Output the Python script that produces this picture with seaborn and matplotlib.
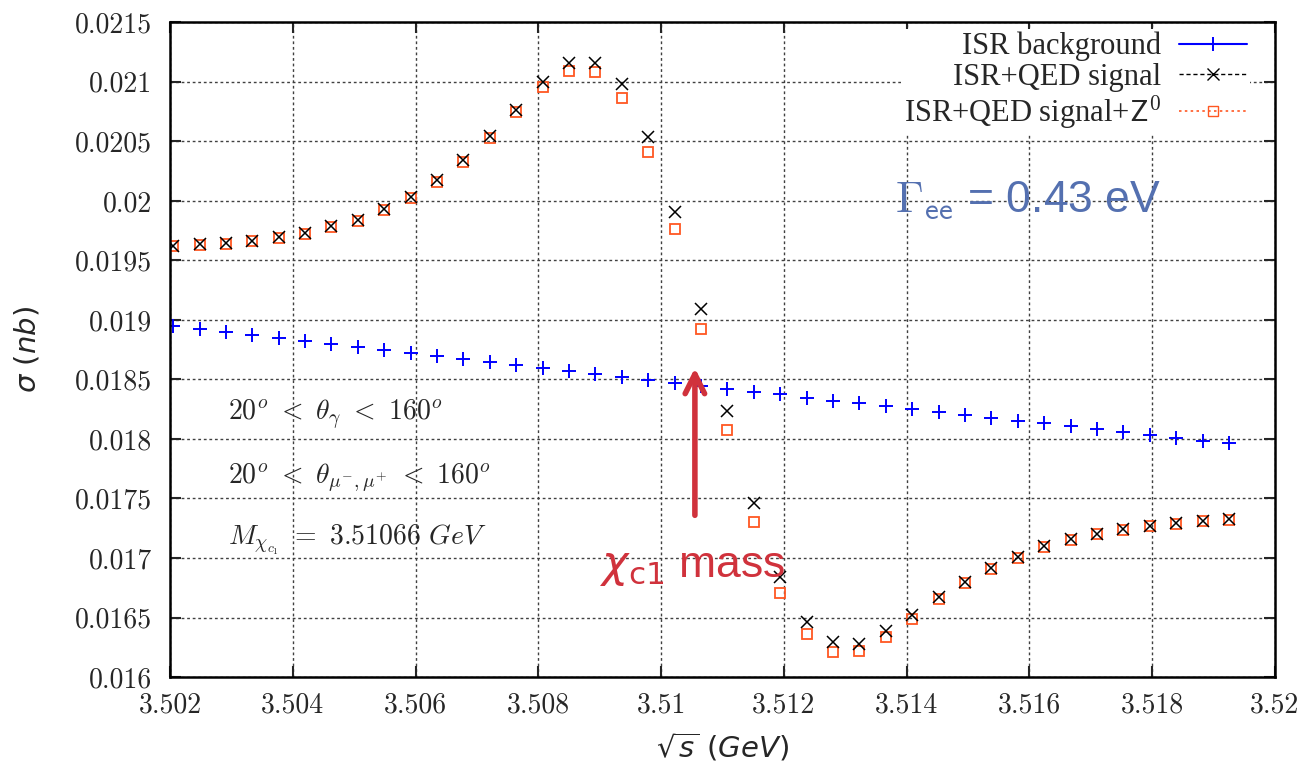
import pandas as pd
import seaborn as sns
import matplotlib
matplotlib.use('Agg')
import matplotlib.pyplot as plt
from matplotlib.lines import Line2D
from matplotlib.ticker import MultipleLocator, FuncFormatter

# centre-of-mass energy (GeV)
sqrt_s = [3.50205, 3.50248, 3.50291, 3.50334, 3.50377, 3.50420, 3.50463, 3.50506,
          3.50549, 3.50592, 3.50635, 3.50678, 3.50721, 3.50764, 3.50807, 3.50850,
          3.50893, 3.50936, 3.50979, 3.51022, 3.51065, 3.51108, 3.51151, 3.51194,
          3.51237, 3.51280, 3.51323, 3.51366, 3.51409, 3.51452, 3.51495, 3.51538,
          3.51581, 3.51624, 3.51667, 3.51710, 3.51753, 3.51796, 3.51839, 3.51882,
          3.51925]

# cross sections (nb)
isr_background = [0.018950, 0.018924, 0.018896, 0.018871, 0.018846, 0.018820, 0.018798,
                  0.018772, 0.018747, 0.018722, 0.018694, 0.018671, 0.018643, 0.018621,
                  0.018598, 0.018570, 0.018545, 0.018520, 0.018494, 0.018469, 0.018444,
                  0.018418, 0.018393, 0.018374, 0.018348, 0.018320, 0.018299, 0.018276,
                  0.018251, 0.018226, 0.018204, 0.018178, 0.018153, 0.018131, 0.018106,
                  0.018081, 0.018059, 0.018036, 0.018011, 0.017986, 0.017964]
qed_signal = [0.019623, 0.019637, 0.019646, 0.019667, 0.019696, 0.019732, 0.019785,
              0.019841, 0.019930, 0.020036, 0.020173, 0.020343, 0.020547, 0.020765,
              0.020995, 0.021154, 0.021159, 0.020978, 0.020534, 0.019908, 0.019093,
              0.018233, 0.017458, 0.016840, 0.016459, 0.016296, 0.016279, 0.016385,
              0.016520, 0.016670, 0.016795, 0.016912, 0.017008, 0.017098, 0.017157,
              0.017205, 0.017242, 0.017269, 0.017292, 0.017311, 0.017326]
qed_signal_z0 = [0.019618, 0.019632, 0.019641, 0.019661, 0.019690, 0.019725, 0.019777,
                 0.019832, 0.019920, 0.020025, 0.020160, 0.020328, 0.020530, 0.020746,
                 0.020953, 0.021087, 0.021081, 0.020863, 0.020409, 0.019760, 0.018927,
                 0.018075, 0.017300, 0.016709, 0.016360, 0.016212, 0.016222, 0.016334,
                 0.016490, 0.016652, 0.016786, 0.016906, 0.017003, 0.017095, 0.017155,
                 0.017202, 0.017239, 0.017266, 0.017289, 0.017308, 0.017323]

legend_labels = ['ISR background', 'ISR+QED signal', r'ISR+QED signal+$\mathsf{Z}^{0}$']

BLUE = '#0000FF'
ORANGE = '#FF5722'
RED = '#D0323C'
SLATE = '#5470B0'

sns.set_style('ticks')
plt.rcParams['mathtext.fontset'] = 'cm'
plt.rcParams['axes.unicode_minus'] = False
plt.rcParams['font.family'] = ['DejaVu Sans']

df = pd.DataFrame({
    'sqrt_s': sqrt_s,
    'bkg': isr_background,
    'sig': qed_signal,
    'sigz': qed_signal_z0,
})

fig = plt.figure(figsize=(13.03, 7.69), dpi=100)
ax = fig.add_axes([0.1305, 0.1196, 0.848, 0.8514])

sns.lineplot(data=df, x='sqrt_s', y='sigz', ax=ax, linestyle='none', marker='s',
             markersize=7, markerfacecolor='none', markeredgecolor=ORANGE,
             markeredgewidth=1.3, color=ORANGE)
sns.lineplot(data=df, x='sqrt_s', y='sig', ax=ax, linestyle='none', marker='x',
             markersize=8, markeredgewidth=1.1, markeredgecolor='black', color='black')
sns.lineplot(data=df, x='sqrt_s', y='bkg', ax=ax, linestyle='none', marker='+',
             markersize=10, markeredgewidth=1.4, markeredgecolor=BLUE, color=BLUE)

ax.set_xlim(3.502, 3.52)
ax.set_ylim(0.016, 0.0215)
ax.xaxis.set_major_locator(MultipleLocator(0.002))
ax.yaxis.set_major_locator(MultipleLocator(0.0005))
ax.xaxis.set_major_formatter(FuncFormatter(lambda v, p: f'{v:g}'))
ax.yaxis.set_major_formatter(FuncFormatter(lambda v, p: f'{v:g}'))
ax.tick_params(direction='in', length=8, width=1.5, top=True, right=True,
               labelsize=20, labelfontfamily='cmr10')
ax.tick_params(axis='y', pad=13)
ax.tick_params(axis='x', pad=11)
ax.grid(True, color='0.25', linestyle=(0, (2, 2)), linewidth=1.0)
for sp in ax.spines.values():
    sp.set_linewidth(1.8)
    sp.set_color('black')

ax.set_ylabel(r'$\sigma\ (nb)$', fontsize=21, math_fontfamily='dejavusans')
ax.yaxis.set_label_coords(-0.116, 0.5)
ax.set_xlabel(r'$\sqrt{s}\ (GeV)$', fontsize=21, math_fontfamily='dejavusans', va='center')
ax.xaxis.set_label_coords(0.5, -0.107)

handles = [
    Line2D([], [], color=BLUE, lw=1.5, marker='+', markersize=10, markeredgewidth=1.4),
    Line2D([], [], color='black', lw=1, ls=(0, (3, 2)), marker='x', markersize=8),
    Line2D([], [], color=ORANGE, lw=1.2, ls=(0, (1.5, 2)), marker='s', markersize=7,
           markerfacecolor='none'),
]
ax.legend(handles, legend_labels, loc='upper right', bbox_to_anchor=(0.977, 0.99),
          markerfirst=False, frameon=True, fancybox=False, edgecolor='none',
          facecolor='white', framealpha=1, prop={'family': 'Liberation Serif', 'size': 22},
          handlelength=2.2, handletextpad=0.6, labelspacing=0.05, borderpad=0.1,
          borderaxespad=0)

ax.text(0.0525, 0.40, r'$20^{o}\ <\ \theta_{\gamma}\ <\ 160^{o}$',
        transform=ax.transAxes, fontsize=20, va='center')
ax.text(0.0525, 0.304, r'$20^{o}\ <\ \theta_{\mu^{-},\mu^{+}}\ <\ 160^{o}$',
        transform=ax.transAxes, fontsize=20, va='center')
ax.text(0.0525, 0.209, r'$M_{\chi_{c_1}}\ =\ 3.51066\ \mathit{GeV}$',
        transform=ax.transAxes, fontsize=20, va='center')

ax.text(0.656, 0.728, r'$\Gamma_{\mathsf{ee}}$ = 0.43 eV', transform=ax.transAxes,
        fontsize=32, color=SLATE, family='Liberation Sans', va='center')
ax.text(0.389, 0.168, r'$\chi_{\mathrm{c1}}$ mass', transform=ax.transAxes,
        fontsize=32, color=RED, family='Liberation Sans', va='center',
        math_fontfamily='dejavusans')
ax.annotate('', xy=(0.475, 0.472), xytext=(0.475, 0.247), xycoords='axes fraction',
            arrowprops=dict(arrowstyle='->,head_length=0.7,head_width=0.35', lw=4,
                            color=RED, mutation_scale=20, shrinkA=0, shrinkB=0))

fig.savefig('out.png', dpi=100)
